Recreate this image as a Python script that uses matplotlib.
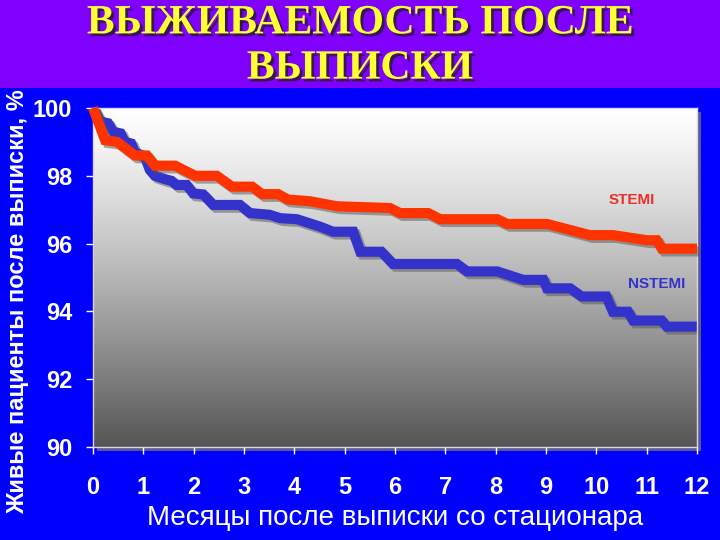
import numpy as np
import matplotlib.pyplot as plt
import matplotlib.patheffects as pe
from matplotlib.patches import Rectangle

# Kaplan-Meier style survival after discharge
stemi_months = [0, 0.24, 0.48, 0.83, 1.07, 1.23, 1.63, 2.03, 2.46, 2.76, 3.16, 3.36,
                3.68, 3.87, 4.31, 4.85, 5.9, 6.1, 6.66, 6.9, 8.03, 8.23, 9.02, 9.87,
                10.33, 11.0, 11.2, 11.3, 12.0]
stemi_surv = [100, 99.05, 99.0, 98.6, 98.6, 98.3, 98.3, 98.0, 98.0, 97.68, 97.68, 97.46,
              97.46, 97.3, 97.25, 97.1, 97.05, 96.9, 96.9, 96.72, 96.72, 96.58, 96.58, 96.25,
              96.25, 96.1, 96.1, 95.85, 95.85]

nstemi_months = [0, 0.15, 0.3, 0.4, 0.55, 0.63, 0.76, 0.83, 1.03, 1.13, 1.23, 1.33, 1.43,
                 1.56, 1.66, 1.86, 1.99, 2.19, 2.39, 2.92, 3.12, 3.51, 3.72, 4.05, 4.51,
                 4.77, 5.17, 5.31, 5.73, 5.96, 7.23, 7.43, 8.03, 8.55, 8.95, 9.02, 9.48,
                 9.71, 10.2, 10.33, 10.63, 10.73, 11.3, 11.4, 12.0]
nstemi_surv = [100, 99.6, 99.55, 99.3, 99.25, 99.0, 98.95, 98.7, 98.56, 98.17, 98.0, 97.95,
               97.9, 97.85, 97.73, 97.73, 97.48, 97.45, 97.14, 97.14, 96.9, 96.85, 96.75,
               96.72, 96.5, 96.35, 96.35, 95.76, 95.76, 95.4, 95.4, 95.18, 95.18, 94.93,
               94.93, 94.68, 94.68, 94.44, 94.44, 93.99, 93.99, 93.73, 93.73, 93.55, 93.55]

x_ticks = list(range(0, 13))
y_ticks = [90, 92, 94, 96, 98, 100]

fig = plt.figure(figsize=(7.2, 5.4), dpi=100)
fig.patch.set_facecolor('#0000ff')

# purple title band
fig.patches.append(Rectangle((0, 1 - 88 / 540), 1, 88 / 540, transform=fig.transFigure,
                             facecolor='#8000ff', edgecolor='none', zorder=0))

# drop shadow of the plot area
fig.patches.append(Rectangle((97 / 720, 1 - 451 / 540), 604 / 720, 339 / 540,
                             transform=fig.transFigure, facecolor='#5a5a90',
                             edgecolor='none', zorder=0))

ax = fig.add_axes([93 / 720, 1 - 447 / 540, 604 / 720, 339 / 540])
ax.set_zorder(2)

# white-to-grey gradient background
t = np.linspace(0, 1, 256) ** 1.2
grad = (255 - 170 * t)[:, None] / 255.0
ax.imshow(np.dstack([grad, grad, grad]), extent=[0, 12, 90, 100], aspect='auto',
          origin='upper', zorder=0)

shadow = [pe.SimpleLineShadow(offset=(2, -2), shadow_color='#555555', alpha=0.5), pe.Normal()]
ax.plot(stemi_months, stemi_surv, color='#ff3300', lw=7.3, solid_joinstyle='miter',
        solid_capstyle='butt', path_effects=shadow, zorder=3, clip_on=False)
ax.plot(nstemi_months, nstemi_surv, color='#3333cc', lw=7.3, solid_joinstyle='miter',
        solid_capstyle='butt', path_effects=shadow, zorder=2, clip_on=False)

ax.text(10.7, 97.28, 'STEMI', color='#e8322a', fontsize=11, fontweight='bold',
        family='Liberation Sans', ha='center', va='center')
ax.text(11.2, 94.8, 'NSTEMI', color='#3333cc', fontsize=11, fontweight='bold',
        family='Liberation Sans', ha='center', va='center')

ax.set_xlim(0, 12)
ax.set_ylim(90, 100)
ax.set_xticks(x_ticks)
ax.set_yticks(y_ticks)
ax.tick_params(colors='white', length=5, width=1)
ax.tick_params(axis='x', pad=16)
ax.tick_params(axis='y', pad=10)
for lab in ax.get_xticklabels() + ax.get_yticklabels():
    lab.set_fontsize(17)
    lab.set_fontweight('bold')
    lab.set_family('Liberation Sans')
    lab.set_color('white')
for s in ax.spines.values():
    s.set_color('#d8d8e8')
    s.set_linewidth(1)

ax.set_xlabel('Месяцы после выписки со стационара', color='white', fontsize=20,
              family='Liberation Sans', labelpad=4)
fig.text(18 / 720, 1 - 302 / 540, 'Живые пациенты после выписки, %', rotation=90,
         color='white', fontsize=17, fontweight='bold', family='Liberation Sans',
         ha='center', va='center')

title = fig.text(0.5, 1 - 46 / 540, 'ВЫЖИВАЕМОСТЬ ПОСЛЕ\nВЫПИСКИ', color='#ffff33',
                 fontsize=30, fontweight='bold', family='Liberation Serif',
                 ha='center', va='center', linespacing=1.25)
title.set_path_effects([pe.withSimplePatchShadow(offset=(2, -2), shadow_rgbFace='#202020',
                                                 alpha=0.8)])

fig.savefig('out.png', dpi=100, facecolor=fig.get_facecolor())
